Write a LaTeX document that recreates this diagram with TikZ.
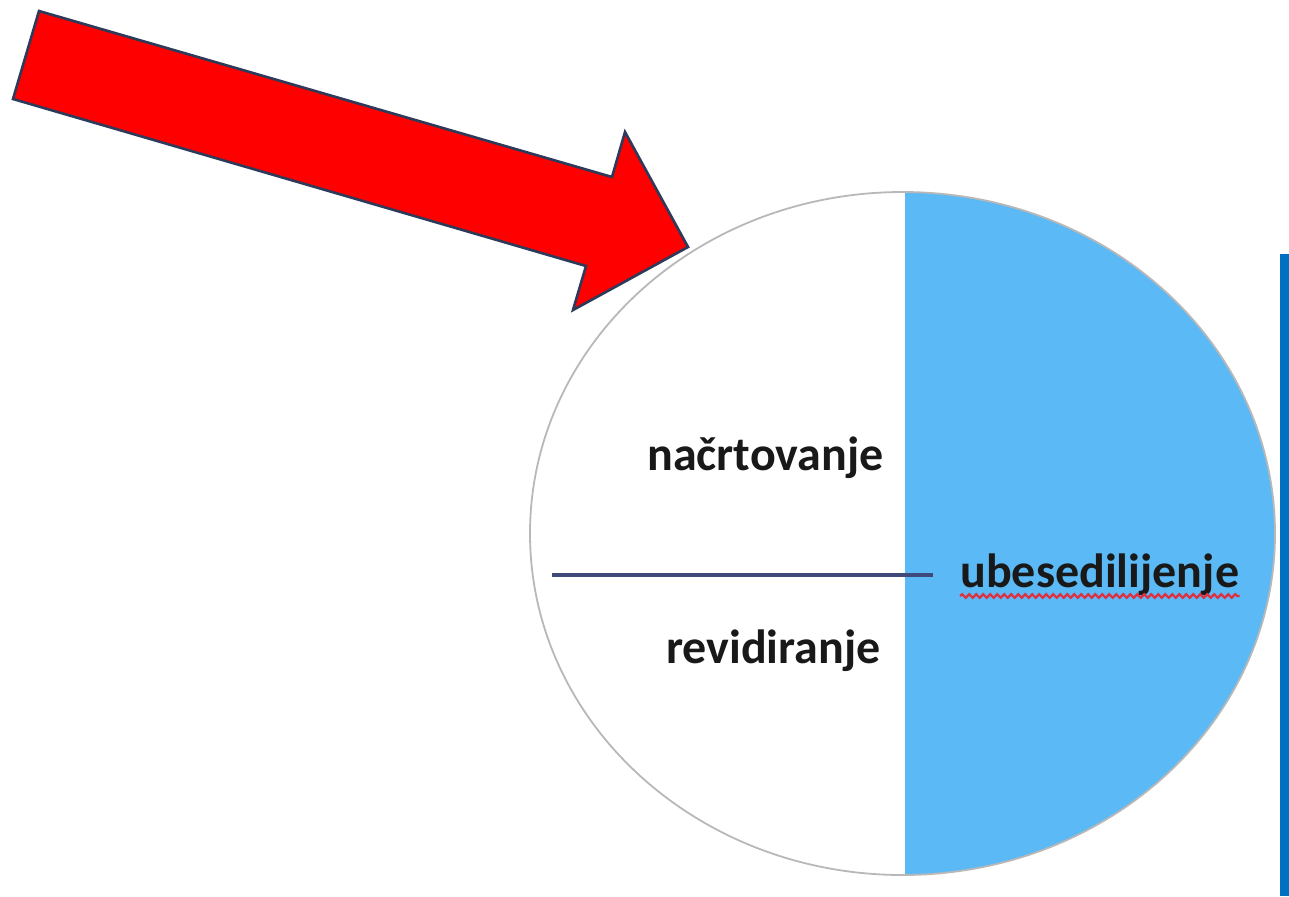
\documentclass[tikz,border=0pt]{standalone}
\usepackage{fontspec}
\setmainfont{Carlito}
\usetikzlibrary{decorations.pathmorphing}
\definecolor{arrowred}{HTML}{FF0000}
\definecolor{arrowline}{HTML}{2E3A59}
\definecolor{halfblue}{HTML}{5BB9F5}
\definecolor{barblue}{HTML}{0070C0}
\definecolor{sepline}{HTML}{3F4A7A}
\definecolor{rimgray}{HTML}{B8B8B8}
\definecolor{spellred}{HTML}{E0303F}
\begin{document}
\begin{tikzpicture}[x=0.5pt, y=-0.5pt,
		phase/.style = {font=\bfseries\fontsize{24}{28}\selectfont, text=black!90, inner sep=0pt},
		rim/.style = {draw=rimgray, line width=0.9pt},
		squiggle/.style = {draw=spellred, line width=1.1pt,
			decorate, decoration={snake, amplitude=0.9pt, segment length=3.5pt}}]
		\useasboundingbox (0,0) rectangle (1289,896);
		% half of the circle in blue
		\begin{scope}
			\clip (905,0) rectangle (1289,896);
			\fill[halfblue] (902.5,533.5) ellipse [x radius=372.5, y radius=341.5];
		\end{scope}
		\draw[rim] (902.5,533.5) ellipse [x radius=372.5, y radius=341.5];
		% bar at the right
		\fill[barblue] (1280,254) rectangle (1289,896);
		% big arrow
		\draw[fill=arrowred, draw=arrowline, line width=1.3pt, line join=miter]
			(39,11) -- (612,177) -- (625,132) -- (688,247) -- (573,310) -- (586,266) -- (13,99) -- cycle;
		% separator
		\coordinate (sepL) at (552,575);
		\coordinate (sepR) at (933,575);
		\draw[sepline, line width=1.6pt] (sepL) -- (sepR);
		% labels
		\node[phase, anchor=base east] (plan) at (884,470) {načrtovanje};
		\node[phase, anchor=base east] (revise) at (881,663) {revidiranje};
		\node[phase, anchor=base west] (write) at (960,587) {ubesedilijenje};
		\draw[squiggle] ([yshift=-4.5pt]write.base west) -- ([yshift=-4.5pt]write.base east);
\end{tikzpicture}
\end{document}
